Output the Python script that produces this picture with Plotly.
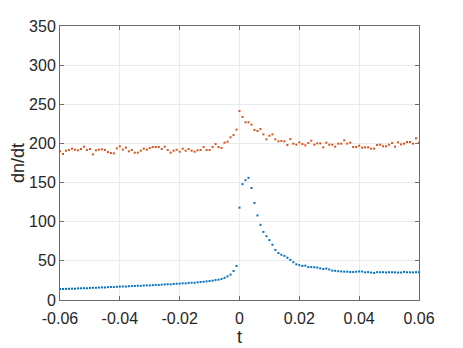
import numpy as np
import plotly.graph_objects as go

# sample times, one every 1 ms from -0.06 s to 0.06 s
t = np.round(np.linspace(-0.06, 0.06, 121), 3)

# blue series
blue = [
    14.0, 14.1, 14.2, 14.3, 14.5, 14.4, 14.8, 14.9, 15.1, 15.0,
    15.4, 15.6, 15.5, 15.9, 16.1, 16.0, 16.4, 16.6, 16.5, 16.9,
    17.1, 17.3, 17.2, 17.6, 17.8, 17.9, 18.2, 18.1, 18.5, 18.7,
    18.6, 19.0, 19.3, 19.2, 19.6, 19.9, 20.1, 20.0, 20.5, 20.8,
    21.0, 21.3, 21.2, 21.8, 22.1, 22.0, 22.6, 23.0, 23.3, 23.8,
    24.2, 24.7, 25.5, 26.0, 26.9, 28.3, 30.2, 32.5, 37.0, 43.5,
    118, 148, 153, 156, 143, 124, 108, 96, 87, 81.5,
    76.5, 70.5, 64, 60, 57.8, 56.4, 54, 51.3, 48.3, 45.6,
    44.5, 43.4, 43.9, 42, 42, 41.8, 41.5, 40.4, 39.6, 40.2,
    39, 37.5, 37.3, 36.7, 36.5, 36.2, 36.2, 35.8, 35.8, 36.1,
    36.4, 36.3, 35.3, 35.6, 35, 34.6, 35.6, 35.4, 35.5, 35.2,
    35.5, 35.4, 35.3, 35, 35.1, 35.9, 35.4, 35.4, 35.3, 35.5,
    35.4,
]

# orange series
orange = [
    190, 186.5, 190.7, 191.6, 193.3, 192, 191.2, 192.9, 195.8, 191.6,
    192.9, 186, 191.2, 192, 192.5, 191.6, 189, 187.8, 187.3, 193.7,
    196.3, 192, 194.6, 189.9, 191.6, 188.2, 188.2, 190.7, 193.3, 192,
    194.2, 195.4, 195.4, 195.4, 192.9, 195.8, 191.6, 188.2, 190.7, 192,
    189.4, 193.3, 190.7, 192.9, 190.7, 189.4, 191.2, 191.6, 195.4, 191.6,
    191.6, 195.4, 199.3, 195.4, 194.2, 201, 202.2, 207.8, 210.8, 217.6,
    241.4,
    233.8, 227, 227, 224, 217.1, 215.9, 218.4, 211.6, 205.2, 209.9,
    211.6, 205.2, 202.7, 203.1, 202.7, 198, 205.6, 199.7, 198.4, 201.4,
    199.3, 197.6, 200.6, 203.5, 198.4, 200.1, 200.1, 195, 201, 198.4,
    198.4, 195.8, 199.7, 199.7, 204, 199.7, 201, 195.4, 195.4, 197.1,
    194.6, 195, 195, 193.3, 193.3, 198, 198.4, 196.3, 196.3, 198.4,
    200.6, 195.8, 201.4, 198.8, 199.7, 201.8, 201.8, 199.7, 206.5, 201,
]

x_ticks = [-0.06, -0.04, -0.02, 0, 0.02, 0.04, 0.06]
x_labels = ["-0.06", "-0.04", "-0.02", "0", "0.02", "0.04", "0.06"]
y_ticks = [0, 50, 100, 150, 200, 250, 300, 350]

_FONT = "Liberation Sans, Arial, sans-serif"
_AX = "#262626"
_GRID = "#ebebeb"

fig = go.Figure()
for ys, color in [(blue, "#0072BD"), (orange, "#D95319")]:
    fig.add_trace(go.Scatter(
        x=t, y=ys,
        mode="markers",
        marker=dict(symbol="square", size=2, color=color, line=dict(width=0)),
        showlegend=False,
    ))

axis_common = dict(
    showline=True, linecolor="#6a6a6a", linewidth=1, mirror="ticks",
    ticks="inside", ticklen=4, tickcolor="#6a6a6a", tickwidth=1,
    showgrid=True, gridcolor=_GRID, gridwidth=1,
    zeroline=False, automargin=False,
    tickfont=dict(family=_FONT, size=16, color=_AX),
)

# the page adds an 8px body margin, so the margins are shifted to compensate
fig.update_layout(
    width=463, height=348,
    paper_bgcolor="white", plot_bgcolor="white",
    margin=dict(l=52, r=52, t=18, b=56),
    xaxis=dict(
        range=[-0.06, 0.06], tickvals=x_ticks, ticktext=x_labels,
        ticklabelstandoff=4,
        title=dict(text="t", font=dict(family=_FONT, size=18, color=_AX), standoff=3),
        **axis_common,
    ),
    yaxis=dict(
        range=[0, 350], tickvals=y_ticks,
        title=dict(text="dn/dt", font=dict(family=_FONT, size=18, color=_AX), standoff=0),
        **axis_common,
    ),
)

fig.write_html("out.html")
